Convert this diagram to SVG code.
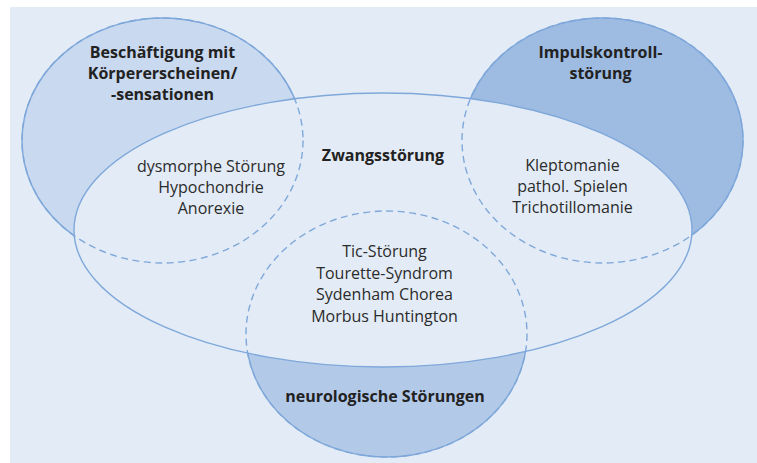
<svg xmlns="http://www.w3.org/2000/svg" width="757" height="463" viewBox="0 0 757 463">
<style>
.solid{fill:none;stroke:#7fa8da;stroke-width:1.4}
.dash{fill:none;stroke:#7fa8da;stroke-width:1.4;stroke-dasharray:7 4.5}
.t{font-family:"Open Sans","Noto Sans",sans-serif;font-size:16px;fill:#2b2b2b;text-anchor:middle}
.b{font-family:"Open Sans","Noto Sans",sans-serif;font-size:16px;font-weight:bold;fill:#222;text-anchor:middle}
</style>
<rect x="10" y="7" width="747" height="456" fill="#e3ebf6"/>
<g id="koerper-fill"><ellipse cx="162.5" cy="140.5" rx="140.5" ry="122.5" style="fill:#c9d9ef;stroke:#7fa8da;stroke-width:1.4"/></g>
<g id="impuls-fill"><ellipse cx="602.5" cy="140.5" rx="140.5" ry="122.5" style="fill:#9ebbe2;stroke:#7fa8da;stroke-width:1.4"/></g>
<g id="neuro-fill"><ellipse cx="386.5" cy="334" rx="140.5" ry="123" style="fill:#b3c9e8;stroke:#7fa8da;stroke-width:1.4"/></g>
<g id="zwang">
<ellipse cx="383" cy="230" rx="309" ry="137" style="fill:#e3ebf6"/>
</g>
<g id="connectors">
<ellipse cx="162.5" cy="140.5" rx="140.5" ry="122.5" class="dash"/>
<ellipse cx="602.5" cy="140.5" rx="140.5" ry="122.5" class="dash"/>
<ellipse cx="386.5" cy="334" rx="140.5" ry="123" class="dash"/>
<ellipse cx="383" cy="230" rx="309" ry="137" class="solid"/>
</g>
<g id="koerper-text">
<text class="b" x="162.5" y="58">Beschäftigung mit</text>
<text class="b" x="162.5" y="79">Körpererscheinen/</text>
<text class="b" x="162.5" y="100">-sensationen</text>
<text class="t" x="211" y="172">dysmorphe Störung</text>
<text class="t" x="211" y="193">Hypochondrie</text>
<text class="t" x="211" y="214">Anorexie</text>
</g>
<g id="impuls-text">
<text class="b" x="600.5" y="58">Impulskontroll-</text>
<text class="b" x="600.5" y="79">störung</text>
<text class="t" x="572.5" y="171">Kleptomanie</text>
<text class="t" x="572.5" y="192">pathol. Spielen</text>
<text class="t" x="572.5" y="213">Trichotillomanie</text>
</g>
<g id="zwang-text">
<text class="b" x="383" y="161">Zwangsstörung</text>
</g>
<g id="neuro-text">
<text class="t" x="384.5" y="257">Tic-Störung</text>
<text class="t" x="384.5" y="278.5">Tourette-Syndrom</text>
<text class="t" x="384.5" y="300">Sydenham Chorea</text>
<text class="t" x="384.5" y="321.5">Morbus Huntington</text>
<text class="b" x="385" y="402">neurologische Störungen</text>
</g>
</svg>
